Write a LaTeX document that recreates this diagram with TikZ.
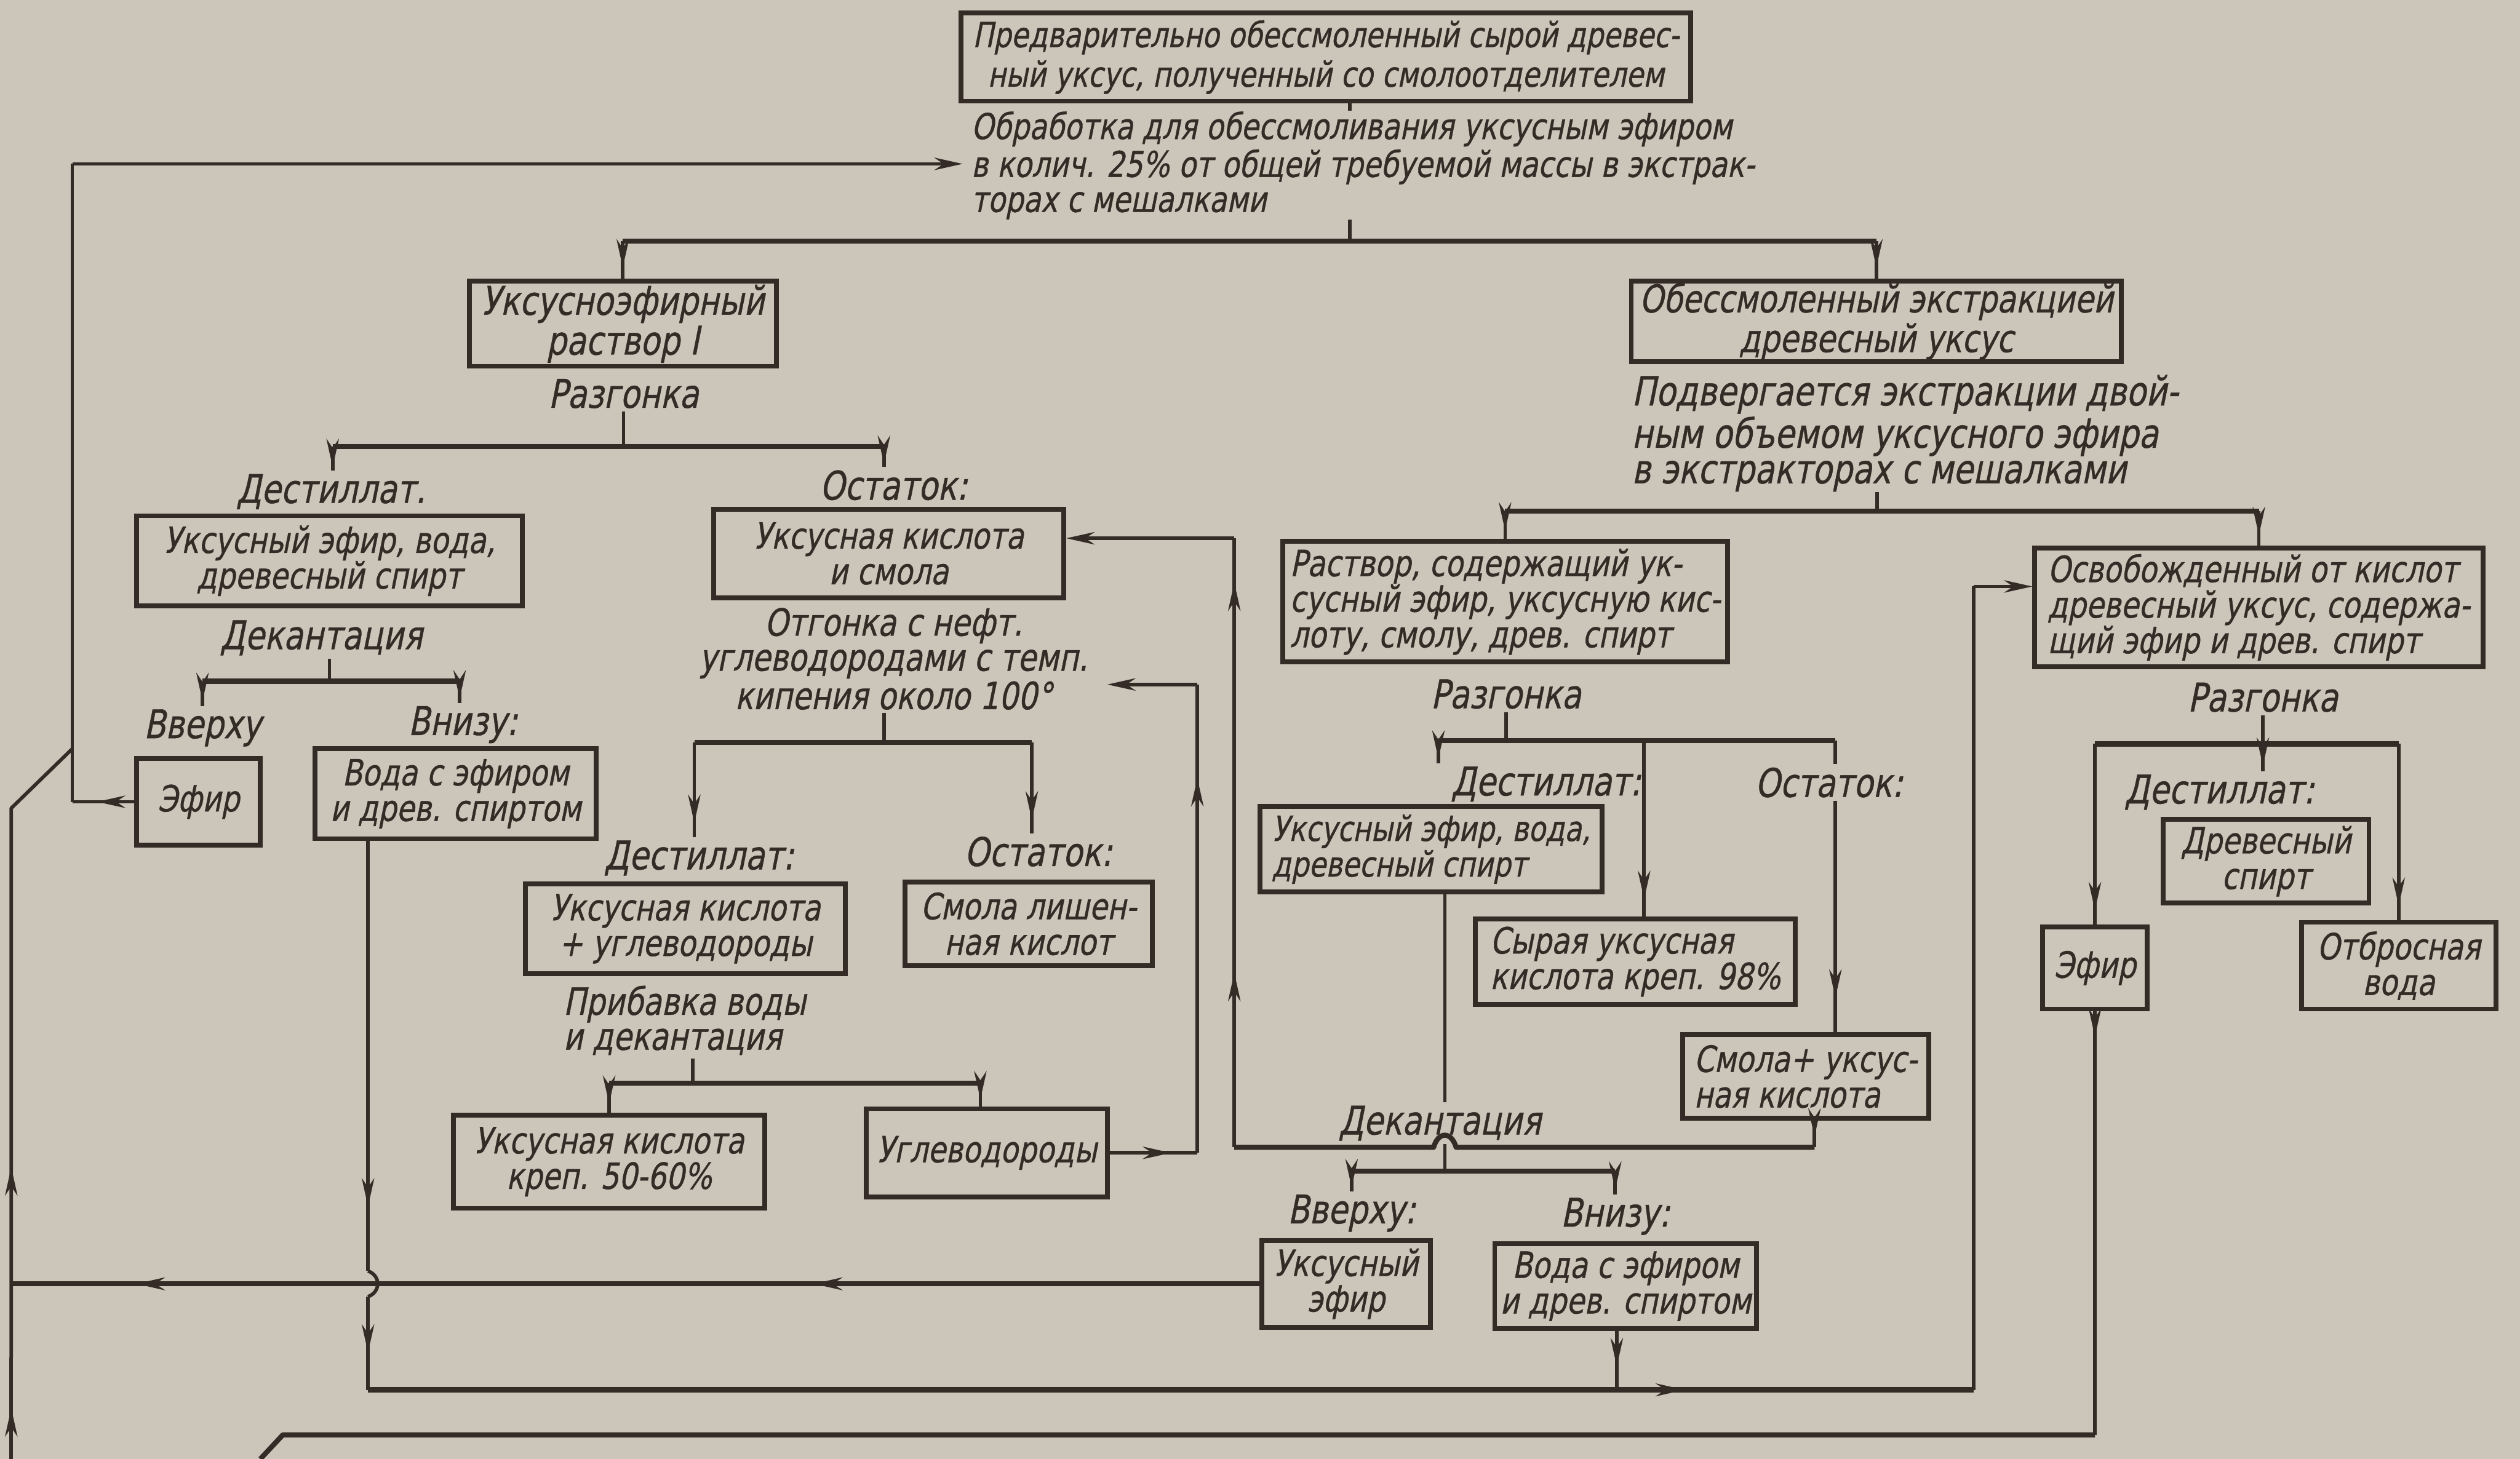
\documentclass[tikz,border=0pt]{standalone}
\usepackage{fontspec}
\usetikzlibrary{arrows.meta,decorations.markings}
\newfontfamily\gost{DejaVu Sans}[FakeSlant=0.2,FakeStretch=0.8,FakeBold=0.7]
\definecolor{paperc}{RGB}{204,197,186}
\definecolor{inkc}{RGB}{52,43,38}
\tikzset{
  ink/.style={draw=inkc, line width=1.25pt, line join=round},
  hbar/.style={draw=inkc, line width=1.8pt, line join=round},
  box/.style={draw=inkc, line width=1.7pt, inner sep=0pt, align=center, text=inkc,
    font=\gost\fontsize{12.8}{12.6}\selectfont},
  lbl/.style={inner sep=1pt, text=inkc, font=\gost\fontsize{14}{14}\selectfont},
  txt/.style={inner sep=0pt, text=inkc, align=left, font=\gost\fontsize{12.6}{12.4}\selectfont},
  ma/.style={postaction={decorate}, decoration={markings,
    mark=at position #1 with {\arrow{Stealth[length=10pt,width=4.4pt]}}}},
  ma/.default=0.7,
  ea/.style={-{Stealth[length=10pt,width=4.4pt]}}
}
\begin{document}
\begin{tikzpicture}[x=0.02cm,y=-0.02cm]
\fill[paperc] (0,0) rectangle (1568,908);
\useasboundingbox (0,0) rectangle (1568,908);

% ---------- nodes ----------
\node[box, minimum width=9.08cm, minimum height=1.10cm, font=\gost\fontsize{12.3}{14}\selectfont] (top) at (825,35.5)
  {Предварительно обессмоленный сырой древес-\\ный уксус, полученный со смолоотделителем};
\node[txt, anchor=north west] (t1) at (604,69)
  {Обработка для обессмоливания уксусным эфиром\\в колич. 25\% от общей требуемой массы в экстрак-\\торах с мешалками};

\node[box, minimum width=3.82cm, minimum height=1.06cm, font=\gost\fontsize{14}{13}\selectfont] (A) at (387.5,201.5) {Уксусноэфирный\\раствор I};
\node[box, minimum width=6.10cm, minimum height=1.00cm, font=\gost\fontsize{13.5}{12.6}\selectfont] (B) at (1167.5,200) {Обессмоленный экстракцией\\древесный уксус};
\node[txt, anchor=north west, font=\gost\fontsize{14.2}{12.6}\selectfont] (tB) at (1015,233)
  {Подвергается экстракции двой-\\ным объемом уксусного эфира\\в экстракторах с мешалками};

% left subtree
\node[lbl] (rz1) at (388,245) {Разгонка};
\node[lbl] (ds1) at (206,306) {Дестиллат.};
\node[lbl] (os1) at (556,302) {Остаток:};
\node[box, minimum width=4.80cm, minimum height=1.12cm] (C) at (205,349) {Уксусный эфир, вода,\\древесный спирт};
\node[lbl] (dk1) at (200,397) {Декантация};
\node[lbl] (vv1) at (126,453) {Вверху};
\node[lbl] (vn1) at (288,451) {Внизу:};
\node[box, minimum width=1.54cm, minimum height=1.08cm] (D) at (123.5,499) {Эфир};
\node[box, minimum width=3.50cm, minimum height=1.12cm] (E) at (283.5,494) {Вода с эфиром\\и древ. спиртом};
\node[box, minimum width=4.36cm, minimum height=1.10cm] (F) at (553,344.5) {Уксусная кислота\\и смола};
\node[lbl, align=center, font=\gost\fontsize{13.3}{12.4}\selectfont] (T2) at (556,410)
  {Отгонка с нефт.\\углеводородами с темп.\\кипения около 100°};
\node[lbl] (ds2) at (435,534) {Дестиллат:};
\node[lbl] (os2) at (646,530) {Остаток:};
\node[box, minimum width=3.98cm, minimum height=1.12cm] (G) at (426.5,578) {Уксусная кислота\\+ углеводороды};
\node[box, minimum width=3.08cm, minimum height=1.04cm] (H) at (640,575) {Смола лишен-\\ная кислот};
\node[lbl, align=left, font=\gost\fontsize{13.3}{12.4}\selectfont] (pd) at (426,635) {Прибавка воды\\и декантация};
\node[box, minimum width=3.88cm, minimum height=1.16cm] (I) at (379,723) {Уксусная кислота\\креп. 50-60\%};
\node[box, minimum width=3.00cm, minimum height=1.10cm] (J) at (614,717.5) {Углеводороды};

% right subtree
\node[box, align=left, minimum width=5.54cm, minimum height=1.50cm] (K) at (936.5,374.5)
  {Раствор, содержащий ук-\\сусный эфир, уксусную кис-\\лоту, смолу, древ. спирт};
\node[box, align=left, minimum width=5.58cm, minimum height=1.48cm] (M) at (1405.5,378)
  {Освобожденный от кислот\\древесный уксус, содержа-\\щий эфир и древ. спирт};
\node[lbl] (rz2) at (937,432) {Разгонка};
\node[lbl] (ds3) at (962,488) {Дестиллат:};
\node[lbl] (os3) at (1138,487) {Остаток:};
\node[box, align=left, minimum width=4.26cm, minimum height=1.06cm, font=\gost\fontsize{12.3}{12.6}\selectfont] (N) at (890.5,528.5) {Уксусный эфир, вода,\\древесный спирт};
\node[box, align=left, minimum width=3.98cm, minimum height=1.06cm] (O) at (1017.5,598.5) {Сырая уксусная\\кислота креп. 98\%};
\node[box, align=left, minimum width=3.06cm, minimum height=1.04cm] (P) at (1123.5,670) {Смола+ уксус-\\ная кислота};
\node[lbl] (dk2) at (896,699) {Декантация};
\node[lbl] (vv2) at (841,755) {Вверху:};
\node[lbl] (vn2) at (1005,757) {Внизу:};
\node[box, minimum width=2.10cm, minimum height=1.08cm] (Q) at (837.5,799) {Уксусный\\эфир};
\node[box, minimum width=3.26cm, minimum height=1.06cm] (R) at (1011.5,800.5) {Вода с эфиром\\и древ. спиртом};
\node[lbl] (rz3) at (1408,434) {Разгонка};
\node[lbl] (ds4) at (1381,493) {Дестиллат:};
\node[box, minimum width=2.56cm, minimum height=1.04cm] (S) at (1410,536) {Древесный\\спирт};
\node[box, minimum width=1.30cm, minimum height=1.02cm] (T) at (1303.5,602.5) {Эфир};
\node[box, minimum width=2.42cm, minimum height=1.08cm] (U) at (1492.5,601) {Отбросная\\вода};

\coordinate (t1in) at (599,102);
\coordinate (t2in) at (689,426);

% ---------- connectors: top ----------
\draw[ink] (top.south -| 840,0) -- (t1.north -| 840,0);
\draw[ink] (t1.south -| 840,0) -- (840,150);
\draw[hbar] (A.north |- 0,150) -- (B.north |- 0,150);
\draw[ink, ma] (A.north |- 0,150) -- (A.north);
\draw[ink, ma] (B.north |- 0,150) -- (B.north);

% left subtree
\draw[ink] (rz1.south) -- (rz1.south |- 0,278);
\draw[hbar] (207,278) -- (550,278);
\draw[ink, ma=0.85] (207,278) -- (ds1.north -| 207,0);
\draw[ink, ma=0.85] (550,278) -- (os1.north -| 550,0);
\draw[ink] (dk1.south -| 205,0) -- (205,424);
\draw[hbar] (126,424) -- (286,424);
\draw[ink, ma=0.8] (126,424) -- (vv1.north -| 126,0);
\draw[ink, ma=0.8] (286,424) -- (vn1.north -| 286,0);
\draw[ink] (T2.south -| 550,0) -- (550,462);
\draw[hbar] (432,462) -- (642,462);
\draw[ink, ma=0.85] (432,462) -- (ds2.north -| 432,0);
\draw[ink, ma=0.85] (642,462) -- (os2.north -| 642,0);
\draw[ink] (pd.south -| 431,0) -- (431,674);
\draw[hbar] (I.north |- 0,674) -- (610,674);
\draw[ink, ma] (I.north |- 0,674) -- (I.north);
\draw[ink, ma] (610,674) -- (J.north -| 610,0);

% right subtree
\draw[ink] (tB.south -| 1168,0) -- (1168,318);
\draw[hbar] (K.north |- 0,318) -- (M.north |- 0,318);
\draw[ink, ma] (K.north |- 0,318) -- (K.north);
\draw[ink, ma] (M.north |- 0,318) -- (M.north);
\draw[ink] (rz2.south) -- (rz2.south |- 0,461);
\draw[hbar] (895,461) -- (1142,461);
\draw[ink, ma=0.8] (895,461) -- (ds3.north -| 895,0);
\draw[ink, ma=0.9] (1023,461) -- (O.north -| 1023,0);
\draw[ink] (1142,461) -- (os3.north -| 1142,0);
\draw[ink, ma=0.85] (os3.south -| 1142,0) -- (P.north -| 1142,0);
\draw[ink] (N.south -| 899,0) -- (dk2.north -| 899,0);
\draw[ink] (dk2.south -| 899,0) -- (899,729);
\draw[hbar] (vv2.north |- 0,729) -- (vn2.north |- 0,729);
\draw[ink, ma=0.8] (vv2.north |- 0,729) -- (vv2.north);
\draw[ink, ma=0.8] (vn2.north |- 0,729) -- (vn2.north);
\draw[ink] (rz3.south) -- (rz3.south |- 0,463);
\draw[hbar] (T.north |- 0,463) -- (U.north |- 0,463);
\draw[ink, ma=0.92] (T.north |- 0,463) -- (T.north);
\draw[ink, ma=0.8] (1408,463) -- (ds4.north -| 1408,0);
\draw[ink, ma=0.92] (U.north |- 0,463) -- (U.north);

% ---------- return lines ----------
% Смола + уксусная кислота -> Уксусная кислота и смола
\draw[ink, ma=0.6] (P.south -| 1129,0) -- (1129,714);
\draw[hbar] (1129,714) -- (906,714) .. controls (903,704) and (895,704) .. (892,714) -- (768,714);
\draw[ink, ma=0.35] (768,714) -- (768,404);
\draw[ink, ma=0.6] (768,404) -- (768,335);
\draw[ink, ea] (768,335) -- (F.east |- 0,335);
% Углеводороды -> Отгонка
\draw[ink, ma=0.7] (J.east) -- (J.east -| 745,0);
\draw[ink, ma=0.8] (J.east -| 745,0) -- (745,426);
\draw[ink, ea] (745,426) -- (t2in);
% Эфир (left) -> top
\draw[ink, ma=0.6] (D.west) -- (D.west -| 45,0);
\draw[ink] (D.west -| 45,0) -- (45,102);
\draw[ink, ea] (45,102) -- (t1in);
% water lines -> Освобожденный
\draw[ink, ma=0.85] (E.south -| 229,0) -- (229,791);
\draw[ink] (229,791) .. controls (237,794) and (237,804) .. (229,807);
\draw[ink, ma=0.6] (229,807) -- (229,865);
\draw[hbar, ma=0.82] (229,865) -- (1228,865);
\draw[ink] (1228,865) -- (1228,365);
\draw[ink, ea] (1228,365) -- (M.west |- 0,365);
\draw[ink, ma=0.6] (R.south -| 1006,0) -- (1006,865);
% Уксусный эфир (lower) -> left
\draw[hbar, ma=0.5] (Q.west) -- (Q.west -| 229,0);
\draw[hbar, ma=0.65] (Q.west -| 229,0) -- (Q.west -| 7,0);
\draw[ink, ma=0.5] (7,908) -- (7,845);
\draw[ink, ma=0.3] (7,845) -- (7,503) -- (45,466);
% Эфир (right) -> bottom
\draw[ink, ma=0.06] (T.south) -- (T.south |- 0,893);
\draw[hbar] (T.south |- 0,893) -- (176,893) -- (162,908);
\end{tikzpicture}
\end{document}
